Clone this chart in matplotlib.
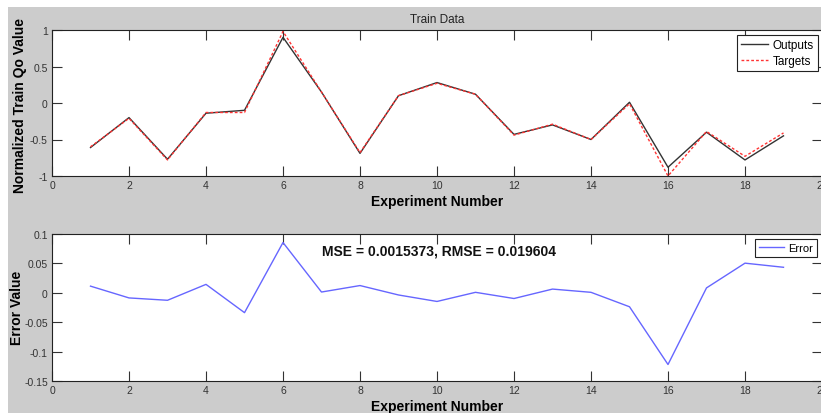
import matplotlib.pyplot as plt
from matplotlib.patches import Rectangle
import numpy as np

# experiment numbers and values
experiments = np.arange(1, 20)
outputs = [-0.61, -0.20, -0.77, -0.14, -0.10, 0.90, 0.15, -0.69, 0.10, 0.28,
           0.12, -0.43, -0.30, -0.50, 0.01, -0.88, -0.40, -0.78, -0.45]
targets = [-0.60, -0.21, -0.78, -0.13, -0.13, 0.98, 0.15, -0.68, 0.10, 0.27,
           0.12, -0.44, -0.29, -0.50, -0.01, -1.00, -0.39, -0.73, -0.41]
errors = [0.011, -0.009, -0.013, 0.014, -0.034, 0.085, 0.001, 0.012, -0.004, -0.015,
          0.0005, -0.010, 0.006, 0.0005, -0.024, -0.122, 0.008, 0.050, 0.043]
mse_text = "MSE = 0.0015373, RMSE = 0.019604"

plt.rcParams['font.family'] = ['Liberation Sans Narrow', 'Liberation Sans', 'DejaVu Sans']
bold_font = ['Liberation Sans', 'DejaVu Sans']

W, H = 821, 414
fig = plt.figure(figsize=(W / 100, H / 100), dpi=100)
fig.patch.set_facecolor('white')
# gray MATLAB-style figure background
fig.patches.append(Rectangle((8 / W, 0), 1, 1 - 8 / H, transform=fig.transFigure,
                             facecolor='#cccccc', edgecolor='none', zorder=-1))

left = 52 / W
right = 822 / W
ax1 = fig.add_axes([left, 1 - 177 / H, right - left, (177 - 31) / H])
ax2 = fig.add_axes([left, 1 - 382 / H, right - left, (382 - 234.7) / H])

tick_color = '#333333'
for ax in (ax1, ax2):
    ax.set_facecolor('white')
    ax.set_xlim(0, 20)
    ax.set_xticks(np.arange(0, 21, 2))
    ax.tick_params(direction='in', length=7, width=0.8, top=True, right=True,
                   labelsize=7.5, colors=tick_color, pad=3)
    for s in ax.spines.values():
        s.set_color('#222222')
        s.set_linewidth(0.8)

ax1.plot(experiments, outputs, color='#333333', lw=1.0, label='Outputs')
ax1.plot(experiments, targets, color='#ff3333', lw=1.0, ls=(0, (2, 1.5)), label='Targets')
ax1.set_ylim(-1, 1)
ax1.set_yticks([-1, -0.5, 0, 0.5, 1])
ax1.set_yticklabels(['-1', '-0.5', '0', '0.5', '1'])
ax1.set_title('Train Data', fontsize=8.5, color='#222222', pad=6)
ax1.set_xlabel('Experiment Number', fontsize=10, fontweight='bold', labelpad=2.5,
               family=bold_font)
ax1.set_ylabel('Normalized Train Qo Value', fontsize=10, fontweight='bold', family=bold_font)
ax1.yaxis.set_label_coords(-0.032, 0.49)
leg1 = ax1.legend(loc='upper right', fontsize=8.5, fancybox=False, framealpha=1,
                  borderpad=0.35, labelspacing=0.35, handlelength=2.3, handletextpad=0.4,
                  borderaxespad=0, bbox_to_anchor=(0.995, 0.966))
leg1.get_frame().set_edgecolor('#222222')
leg1.get_frame().set_linewidth(0.8)

ax2.plot(experiments, errors, color='#6666ff', lw=1.0, label='Error')
ax2.set_ylim(-0.15, 0.1)
ax2.set_yticks([-0.15, -0.1, -0.05, 0, 0.05, 0.1])
ax2.set_yticklabels(['-0.15', '-0.1', '-0.05', '0', '0.05', '0.1'])
ax2.set_xlabel('Experiment Number', fontsize=10, fontweight='bold', labelpad=2.5,
               family=bold_font)
ax2.set_ylabel('Error Value', fontsize=10, fontweight='bold', family=bold_font)
ax2.yaxis.set_label_coords(-0.037, 0.5)
ax2.text(7.0, 0.071, mse_text, fontsize=10, fontweight='bold', color='#111111',
         family=bold_font, va='center')
leg2 = ax2.legend(loc='upper right', fontsize=8, fancybox=False, framealpha=1,
                  borderpad=0.35, handlelength=2.3, handletextpad=0.4,
                  borderaxespad=0, bbox_to_anchor=(0.994, 0.964))
leg2.get_frame().set_edgecolor('#222222')
leg2.get_frame().set_linewidth(0.8)

fig.savefig('out.png', dpi=100)
